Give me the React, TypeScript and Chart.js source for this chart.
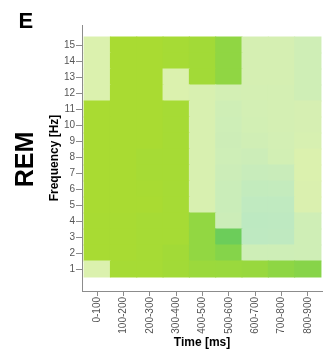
import { useEffect, useRef } from "react";
import { Chart, registerables } from "chart.js";

Chart.register(...registerables);

const panelLetter = "E";
const stageLabel = "REM";
const xTitle = "Time [ms]";
const yTitle = "Frequency [Hz]";

const timeBins = ["0-100", "100-200", "200-300", "300-400", "400-500", "500-600", "600-700", "700-800", "800-900"];
const frequencies = [1, 2, 3, 4, 5, 6, 7, 8, 9, 10, 11, 12, 13, 14, 15];

// colormap position (viridis) per time bin, one array per frequency
const hz1 = [0.865, 0.865, 0.865, 0.86, 0.85, 0.848, 0.845, 0.83, 0.82];
const hz2 = [0.868, 0.868, 0.865, 0.86, 0.836, 0.817, 0.815, 0.815, 0.82];
const hz3 = [0.868, 0.868, 0.865, 0.865, 0.836, 0.775, 0.745, 0.75, 0.82];
const hz4 = [0.868, 0.868, 0.865, 0.865, 0.836, 0.81, 0.74, 0.745, 0.82];
const hz5 = [0.87, 0.87, 0.87, 0.865, 0.853, 0.8, 0.755, 0.755, 0.86];
const hz6 = [0.87, 0.87, 0.868, 0.865, 0.853, 0.8, 0.77, 0.775, 0.862];
const hz7 = [0.87, 0.87, 0.865, 0.865, 0.853, 0.81, 0.79, 0.795, 0.865];
const hz8 = [0.87, 0.87, 0.865, 0.865, 0.853, 0.815, 0.81, 0.83, 0.865];
const hz9 = [0.87, 0.87, 0.87, 0.865, 0.853, 0.812, 0.825, 0.835, 0.85];
const hz10 = [0.87, 0.87, 0.87, 0.865, 0.853, 0.815, 0.83, 0.838, 0.845];
const hz11 = [0.87, 0.87, 0.87, 0.865, 0.853, 0.82, 0.835, 0.84, 0.845];
const hz12 = [0.865, 0.87, 0.87, 0.865, 0.853, 0.835, 0.84, 0.84, 0.82];
const hz13 = [0.865, 0.87, 0.87, 0.865, 0.86, 0.833, 0.842, 0.842, 0.82];
const hz14 = [0.865, 0.87, 0.87, 0.865, 0.86, 0.833, 0.842, 0.842, 0.82];
const hz15 = [0.865, 0.87, 0.87, 0.865, 0.86, 0.833, 0.842, 0.842, 0.82];

// significance mask (1 = significant, drawn opaque; 0 = faded)
const sig1 = [0, 1, 1, 1, 1, 1, 1, 1, 1];
const sig2 = [1, 1, 1, 1, 1, 1, 0, 0, 0];
const sig3 = [1, 1, 1, 1, 1, 1, 0, 0, 0];
const sig4 = [1, 1, 1, 1, 1, 0, 0, 0, 0];
const sig5 = [1, 1, 1, 1, 0, 0, 0, 0, 0];
const sig6 = [1, 1, 1, 1, 0, 0, 0, 0, 0];
const sig7 = [1, 1, 1, 1, 0, 0, 0, 0, 0];
const sig8 = [1, 1, 1, 1, 0, 0, 0, 0, 0];
const sig9 = [1, 1, 1, 1, 0, 0, 0, 0, 0];
const sig10 = [1, 1, 1, 1, 0, 0, 0, 0, 0];
const sig11 = [1, 1, 1, 1, 0, 0, 0, 0, 0];
const sig12 = [0, 1, 1, 0, 0, 0, 0, 0, 0];
const sig13 = [0, 1, 1, 0, 1, 1, 0, 0, 0];
const sig14 = [0, 1, 1, 1, 1, 1, 0, 0, 0];
const sig15 = [0, 1, 1, 1, 1, 1, 0, 0, 0];

const power = [hz1, hz2, hz3, hz4, hz5, hz6, hz7, hz8, hz9, hz10, hz11, hz12, hz13, hz14, hz15];
const significant = [sig1, sig2, sig3, sig4, sig5, sig6, sig7, sig8, sig9, sig10, sig11, sig12, sig13, sig14, sig15];

const viridisStops: [number, number, number, number][] = [
  [0.6, 34, 168, 132],
  [0.65, 53, 183, 121],
  [0.7, 68, 191, 112],
  [0.75, 94, 201, 98],
  [0.8, 122, 209, 81],
  [0.85, 155, 217, 60],
  [0.875, 173, 220, 48],
  [0.9, 189, 223, 38],
  [0.95, 223, 227, 24],
  [1.0, 253, 231, 37],
];
const fadeAlpha = 0.4;

function viridis(t: number): [number, number, number] {
  for (let i = 0; i < viridisStops.length - 1; i++) {
    const a = viridisStops[i];
    const b = viridisStops[i + 1];
    if (t <= b[0]) {
      const f = Math.max(0, (t - a[0]) / (b[0] - a[0]));
      return [a[1] + (b[1] - a[1]) * f, a[2] + (b[2] - a[2]) * f, a[3] + (b[3] - a[3]) * f];
    }
  }
  const l = viridisStops[viridisStops.length - 1];
  return [l[1], l[2], l[3]];
}

function cellColor(v: number, s: number): string {
  const [r, g, b] = viridis(v);
  const a = s ? 1 : fadeAlpha;
  const mix = (c: number) => Math.round(255 - a * (255 - c));
  return `rgb(${mix(r)},${mix(g)},${mix(b)})`;
}

const FONT = '"Liberation Sans", Arial, sans-serif';
const axisColor = "#8c8c8c";
const tickColor = "#555555";

export default function App() {
  const ref = useRef<HTMLCanvasElement>(null);

  useEffect(() => {
    const canvas = ref.current;
    if (!canvas) return;

    const datasets = frequencies.map((f, k) => ({
      label: `${f} Hz`,
      data: timeBins.map((_, i) => ({ x: i, y: [f - 0.5, f + 0.5] })),
      backgroundColor: timeBins.map((_, i) => cellColor(power[k][i], significant[k][i])),
      borderWidth: 0,
      barPercentage: 1,
      categoryPercentage: 1,
      grouped: false,
      inflateAmount: 0.5,
    }));

    const panelLabels = {
      id: "panelLabels",
      afterDraw(chart: any) {
        const ctx = chart.ctx;
        ctx.save();
        ctx.fillStyle = "#000";
        ctx.textAlign = "left";
        ctx.textBaseline = "alphabetic";
        ctx.font = `bold 22px ${FONT}`;
        ctx.fillText(panelLetter, 18.5, 28);
        ctx.translate(33, 159.5);
        ctx.rotate(-Math.PI / 2);
        ctx.textAlign = "center";
        ctx.font = `bold 25px ${FONT}`;
        ctx.fillText(stageLabel, 0, 0);
        ctx.restore();
      },
    };

    const chart = new Chart(canvas, {
      type: "bar",
      data: { datasets } as any,
      options: {
        responsive: false,
        animation: false,
        devicePixelRatio: 1,
        layout: { padding: { top: 25, right: 4, left: 0, bottom: 0 } },
        plugins: { legend: { display: false }, tooltip: { enabled: false } },
        scales: {
          x: {
            type: "linear",
            min: -0.58,
            max: 8.54,
            offset: false,
            afterBuildTicks: (s: any) => {
              s.ticks = timeBins.map((_, i) => ({ value: i }));
            },
            afterFit: (s: any) => {
              s.height = 62;
              s.paddingLeft = 0;
              s.paddingRight = 0;
            },
            ticks: {
              autoSkip: false,
              minRotation: 90,
              maxRotation: 90,
              padding: 1,
              color: tickColor,
              font: { family: FONT, size: 10 },
              callback: (v: any) => timeBins[v as number] ?? "",
            },
            grid: { offset: false, drawOnChartArea: false, drawTicks: true, tickLength: 5, color: axisColor },
            border: { display: true, color: axisColor, width: 1 },
            title: {
              display: true,
              text: xTitle,
              color: "#000",
              font: { family: FONT, size: 12, weight: "bold" },
              padding: { top: 0, bottom: 3 },
            },
          },
          y: {
            type: "linear",
            min: -0.375,
            max: 16.25,
            afterBuildTicks: (s: any) => {
              s.ticks = frequencies.map((v) => ({ value: v }));
            },
            afterFit: (s: any) => {
              s.width = 82;
            },
            ticks: {
              autoSkip: false,
              padding: 1,
              color: tickColor,
              font: { family: FONT, size: 10 },
            },
            grid: { drawOnChartArea: false, drawTicks: true, tickLength: 6, color: axisColor },
            border: { display: true, color: axisColor, width: 1 },
            title: {
              display: true,
              text: yTitle,
              color: "#000",
              font: { family: FONT, size: 12, weight: "bold" },
              padding: { top: 47.8, bottom: 0 },
            },
          },
        },
      } as any,
      plugins: [panelLabels],
    });

    return () => chart.destroy();
  }, []);

  return (
    <div style={{ position: "absolute", left: 0, top: 0, width: 326, height: 353, background: "#fff" }}>
      <canvas ref={ref} width={326} height={353} style={{ display: "block", width: 326, height: 353 }} />
    </div>
  );
}
